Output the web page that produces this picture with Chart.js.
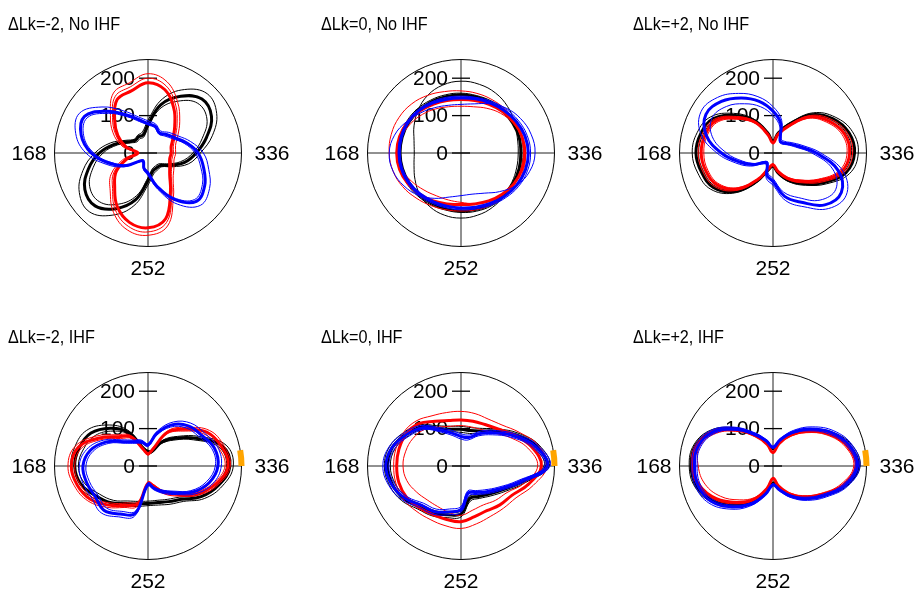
<!DOCTYPE html>
<html><head><meta charset="utf-8">
<script src="https://cdn.jsdelivr.net/npm/chart.js@4.4.1/dist/chart.umd.min.js"></script>
<style>
html,body{margin:0;padding:0;background:#fff;width:917px;height:591px;overflow:hidden;position:relative}
canvas{position:absolute}
</style></head><body>
<script>
// angular positions (bp, counter-clockwise from the right), 24 samples per turn of 336 bp
const angleBp = [0,14,28,42,56,70,84,98,112,126,140,154,168,182,196,210,224,238,252,266,280,294,308,322];
const turnBp = 336;
const radialMax = 250;
const radialTicks = [0, 100, 200];
const angleTickLabels = [168, 336, 252];
const panelTitles = ['ΔLk=-2, No IHF','ΔLk=0, No IHF','ΔLk=+2, No IHF','ΔLk=-2, IHF','ΔLk=0, IHF','ΔLk=+2, IHF'];
const ihfMarker = [false,false,false,true,true,true];
const markerArcBp = [0, 9];

// Panel 1: ΔLk=-2, No IHF  (K=black, R=red, B=blue; a/b = thin replicas)
const p1K  = [129,162,196,204,175,134,76,50,50,48,60,92,130,165,195,200,172,130,74,50,46,47,66,100];
const p1Ka = [140,178,212,224,196,150,88,58,55,52,68,104,142,180,212,222,192,146,86,58,52,52,74,112];
const p1Kb = [120,150,182,188,160,122,68,44,44,42,54,84,120,152,180,184,158,118,66,44,40,41,58,90];
const p1R  = [62,64,77,101,138,175,188,172,165,126,93,60,27,57,98,126,165,192,200,182,120,82,67,60];
const p1Ra = [68,70,84,110,148,186,200,183,175,134,100,66,32,63,106,134,175,203,211,192,128,88,73,66];
const p1Rb = [74,76,92,120,158,197,212,194,185,142,108,72,36,70,114,143,184,213,220,202,136,95,80,72];
const p1B  = [134,106,82,70,62,74,79,92,118,158,196,185,152,106,67,30,25,42,54,92,144,183,175,154];
const p1Ba = [148,118,92,78,68,80,86,100,130,174,212,200,166,116,74,34,28,46,60,100,158,198,190,168];
const p1Bb = [126,100,76,64,58,70,75,87,112,150,188,178,145,100,63,28,23,39,50,87,138,176,168,146];

// Panel 2: ΔLk=0, No IHF
const p2K  = [160,161,160,158,156,155,156,156,158,160,162,163,163,162,160,158,155,154,155,156,158,160,161,161];
const p2Ka = [153,156,165,176,185,190,192,188,178,162,145,130,125,130,142,156,166,172,174,172,168,162,157,154];
const p2Kb = [166,167,166,164,161,159,160,161,163,166,168,169,169,168,166,163,160,158,159,161,163,165,166,166];
const p2R  = [171,169,164,157,150,145,143,145,150,158,165,170,172,170,164,156,148,141,138,141,148,156,164,169];
const p2Ra = [167,167,166,166,165,165,166,170,178,186,191,193,192,188,180,170,162,157,155,157,160,163,165,166];
const p2Rb = [172,168,160,150,138,128,125,128,136,146,156,165,170,165,152,140,132,130,132,140,150,162,170,173];
const p2B  = [180,177,170,162,155,150,147,149,154,160,164,165,165,164,160,155,150,147,147,150,156,164,172,178];
const p2Ba = [198,194,184,170,152,136,130,132,140,152,168,184,192,188,176,160,140,122,114,114,124,146,172,190];
const p2Bb = [186,183,176,168,160,154,152,154,158,163,166,168,168,167,164,160,155,152,152,155,161,169,178,184];

// Panel 3: ΔLk=+2, No IHF
const p3K  = [218,210,184,145,90,56,32,56,100,142,184,200,206,198,184,146,88,46,35,56,85,116,158,202];
const p3Ka = [228,220,192,152,95,60,35,60,106,150,193,210,216,208,193,152,94,50,38,60,90,122,165,212];
const p3Kb = [210,203,178,140,86,53,30,53,96,137,178,193,199,192,178,140,84,44,33,53,81,111,152,195];
const p3R  = [205,198,172,136,83,51,27,50,94,132,174,188,192,186,172,136,82,42,31,51,78,107,146,190];
const p3Ra = [213,206,180,142,88,55,30,54,99,138,181,196,200,194,180,142,86,45,34,55,83,113,154,198];
const p3Rb = [198,191,165,131,79,48,25,47,90,127,168,182,185,180,166,131,78,40,29,48,74,102,140,183];
const p3B  = [116,70,49,38,38,81,112,143,170,195,207,185,138,93,62,36,31,62,76,120,152,196,211,180];
const p3Ba = [128,80,56,44,44,90,124,156,184,210,222,200,150,103,70,42,36,70,86,132,166,210,226,195];
const p3Bb = [104,62,44,34,34,72,100,128,152,176,188,168,124,84,56,32,28,55,68,108,138,178,194,165];

// Panel 4: ΔLk=-2, IHF
const p4K  = [219,206,148,105,74,40,38,49,104,143,176,190,196,186,160,139,116,105,100,101,110,126,164,196];
const p4Ka = [228,216,158,112,80,44,42,54,112,155,190,202,206,196,170,148,124,112,106,108,118,134,174,206];
const p4Kb = [210,196,140,98,68,36,34,45,96,132,163,178,186,176,150,130,108,98,94,95,103,118,155,186];
const p4R  = [214,203,181,139,104,45,32,45,89,111,150,193,205,196,178,148,121,105,46,55,80,107,149,187];
const p4Ra = [220,210,190,146,110,50,36,50,95,118,160,202,214,204,186,156,128,112,52,60,86,114,156,194];
const p4Rb = [206,194,172,132,98,42,29,42,84,104,142,184,196,188,170,140,114,98,42,50,75,100,142,180];
const p4B  = [187,184,165,152,127,90,56,67,75,92,129,160,174,170,163,167,148,131,49,62,79,101,139,170];
const p4Ba = [196,193,175,162,136,97,60,72,80,99,138,170,184,180,173,177,157,139,54,67,85,108,148,180];
const p4Bb = [180,177,157,144,120,84,52,62,70,86,121,152,166,162,155,158,140,124,45,58,74,95,132,162];

// Panel 5: ΔLk=0, IHF
const p5K  = [229,208,168,132,108,98,98,102,116,148,170,190,197,190,176,155,146,135,128,90,94,106,128,168];
const p5Ka = [236,216,176,140,116,106,106,110,124,156,178,198,205,198,184,163,154,143,136,97,100,113,136,176];
const p5Kb = [222,200,160,124,100,90,90,95,108,140,162,182,189,182,168,147,138,127,120,84,88,99,120,160];
const p5R  = [215,196,165,140,128,124,123,126,138,160,170,172,172,172,168,158,150,148,149,140,138,147,157,187];
const p5Ra = [230,214,180,155,145,145,146,148,155,170,178,180,180,180,178,170,165,165,167,160,156,160,170,200];
const p5Rb = [205,185,152,125,112,108,108,110,120,138,148,153,155,150,138,128,125,128,132,122,120,130,142,176];
const p5B  = [231,205,162,126,100,79,79,91,111,145,168,191,201,192,173,149,141,127,116,75,82,97,121,163];
const p5Ba = [238,213,170,134,108,86,86,99,119,153,176,199,209,200,181,157,149,135,124,82,88,104,128,171];
const p5Bb = [224,197,154,118,93,72,72,84,104,138,160,183,193,184,165,141,133,119,108,69,76,90,114,155];

// Panel 6: ΔLk=+2, IHF
const p6K  = [228,211,175,134,99,68,47,67,96,139,185,214,219,211,185,145,109,71,46,62,89,120,155,199];
const p6Ka = [233,218,182,140,104,72,50,71,101,145,192,219,224,216,191,151,114,75,49,66,94,126,161,205];
const p6Kb = [222,205,169,129,94,64,44,63,91,134,179,208,213,205,179,139,104,67,43,58,85,115,150,193];
const p6R  = [222,206,172,131,95,62,36,60,93,136,182,210,214,203,175,138,103,62,33,55,85,117,152,195];
const p6Ra = [226,212,178,136,99,65,38,63,97,141,188,215,218,208,180,143,107,65,35,58,89,122,158,201];
const p6Rb = [216,200,166,126,91,59,34,57,89,130,175,203,200,188,162,128,97,59,31,52,81,112,147,188];
const p6B  = [226,212,180,140,104,72,50,70,98,140,184,207,210,207,190,155,118,78,50,66,93,124,158,200];
const p6Ba = [232,219,188,148,110,76,53,74,104,147,191,214,217,214,198,163,124,82,53,70,98,130,165,207];
const p6Bb = [220,205,172,133,99,68,47,66,93,134,177,200,203,200,183,148,112,74,47,62,88,118,152,193];

const panelSeries = [
  {black:[p1K,p1Ka,p1Kb], red:[p1R,p1Ra,p1Rb], blue:[p1B,p1Ba,p1Bb]},
  {black:[p2K,p2Ka,p2Kb], red:[p2R,p2Ra,p2Rb], blue:[p2B,p2Ba,p2Bb]},
  {black:[p3K,p3Ka,p3Kb], red:[p3R,p3Ra,p3Rb], blue:[p3B,p3Ba,p3Bb]},
  {black:[p4K,p4Ka,p4Kb], red:[p4R,p4Ra,p4Rb], blue:[p4B,p4Ba,p4Bb]},
  {black:[p5K,p5Ka,p5Kb], red:[p5R,p5Ra,p5Rb], blue:[p5B,p5Ba,p5Bb]},
  {black:[p6K,p6Ka,p6Kb], red:[p6R,p6Ra,p6Rb], blue:[p6B,p6Ba,p6Bb]}
];

// ---------- layout / style ----------
const CANVAS = 300;
const RADIUS_PX = 93.5;
const centers = [[148,153],[461,153],[773,153],[148,466],[461,466],[773,466]];
const colorOf = {black:'#000000', red:'#ff0000', blue:'#0000ff'};
const FONT = '"Liberation Sans", Arial, Helvetica, sans-serif';

// radar draws clockwise from its start angle; our arrays run counter-clockwise
const n = angleBp.length;
const radarLabels = angleBp.map((_, i) => String((turnBp - angleBp[i]) % turnBp));
const toRadar = arr => arr.map((_, i) => arr[(n - i) % n]);

const frame = {
  id: 'frame',
  beforeDatasetsDraw(chart, args, opts) {
    const s = chart.scales.r, ctx = chart.ctx;
    const cx = s.xCenter, cy = s.yCenter;
    const R = s.getDistanceFromCenterForValue(radialMax);
    ctx.save();
    ctx.strokeStyle = '#000'; ctx.lineWidth = 1;
    ctx.beginPath(); ctx.arc(cx, cy, R, 0, Math.PI * 2); ctx.stroke();
    ctx.strokeStyle = '#222';
    ctx.beginPath();
    ctx.moveTo(cx - R, cy); ctx.lineTo(cx + R, cy);
    ctx.moveTo(cx, cy - R); ctx.lineTo(cx, cy + R);
    ctx.stroke();
    ctx.fillStyle = '#000';
    ctx.font = '21px ' + FONT;
    ctx.textBaseline = 'middle';
    ctx.lineWidth = 1.3; ctx.strokeStyle = '#000';
    radialTicks.forEach(v => {
      const y = cy - s.getDistanceFromCenterForValue(v);
      ctx.beginPath(); ctx.moveTo(cx - 9, y); ctx.lineTo(cx + 9, y); ctx.stroke();
      ctx.textAlign = 'right';
      ctx.fillText(String(v), cx - 13, y + 1);
    });
    angleTickLabels.forEach(a => {
      const th = a / turnBp * Math.PI * 2;
      const c = Math.cos(th), sn = Math.sin(th);
      const x = cx + c * (R + 28 + 2.5 * c);
      const y = cy - sn * (R + 22);
      ctx.textAlign = 'center';
      ctx.fillText(String(a), x, y + 1);
    });
    ctx.font = '18px ' + FONT;
    ctx.textAlign = 'left';
    ctx.translate(cx - 140, cy - 128);
    ctx.scale(0.9, 1);
    ctx.fillText(opts.title, 0, 0);
    ctx.restore();
  },
  afterDatasetsDraw(chart, args, opts) {
    if (!opts.marker) return;
    const s = chart.scales.r, ctx = chart.ctx;
    const R = s.getDistanceFromCenterForValue(radialMax);
    const a0 = markerArcBp[0] / turnBp * Math.PI * 2, a1 = markerArcBp[1] / turnBp * Math.PI * 2;
    ctx.save();
    ctx.strokeStyle = '#ffa500'; ctx.lineWidth = 6; ctx.lineCap = 'butt';
    ctx.beginPath(); ctx.arc(s.xCenter, s.yCenter, R, -a1, -a0); ctx.stroke();
    ctx.restore();
  }
};

panelSeries.forEach((series, p) => {
  const cv = document.createElement('canvas');
  cv.width = CANVAS; cv.height = CANVAS;
  cv.style.left = (centers[p][0] - CANVAS / 2) + 'px';
  cv.style.top = (centers[p][1] - CANVAS / 2) + 'px';
  document.body.appendChild(cv);
  const datasets = [];
  ['blue', 'red', 'black'].forEach(col => {
    series[col].forEach((arr, k) => {
      datasets.push({
        data: toRadar(arr),
        borderColor: colorOf[col],
        backgroundColor: colorOf[col],
        borderWidth: k === 0 ? 3 : 1,
        pointRadius: 0,
        fill: false,
        tension: 0.4,
        borderJoinStyle: 'round'
      });
    });
  });
  new Chart(cv, {
    type: 'radar',
    data: {labels: radarLabels, datasets},
    options: {
      responsive: false,
      animation: false,
      devicePixelRatio: 1,
      layout: {padding: 0},
      events: [],
      plugins: {
        legend: {display: false},
        tooltip: {enabled: false},
        frame: {title: panelTitles[p], marker: ihfMarker[p]}
      },
      scales: {
        r: {
          min: 0,
          max: radialMax * (CANVAS / 2) / RADIUS_PX,
          startAngle: 90,
          grid: {display: false},
          angleLines: {display: false},
          pointLabels: {display: false},
          ticks: {display: false}
        }
      }
    },
    plugins: [frame]
  });
});
</script>
</body></html>
